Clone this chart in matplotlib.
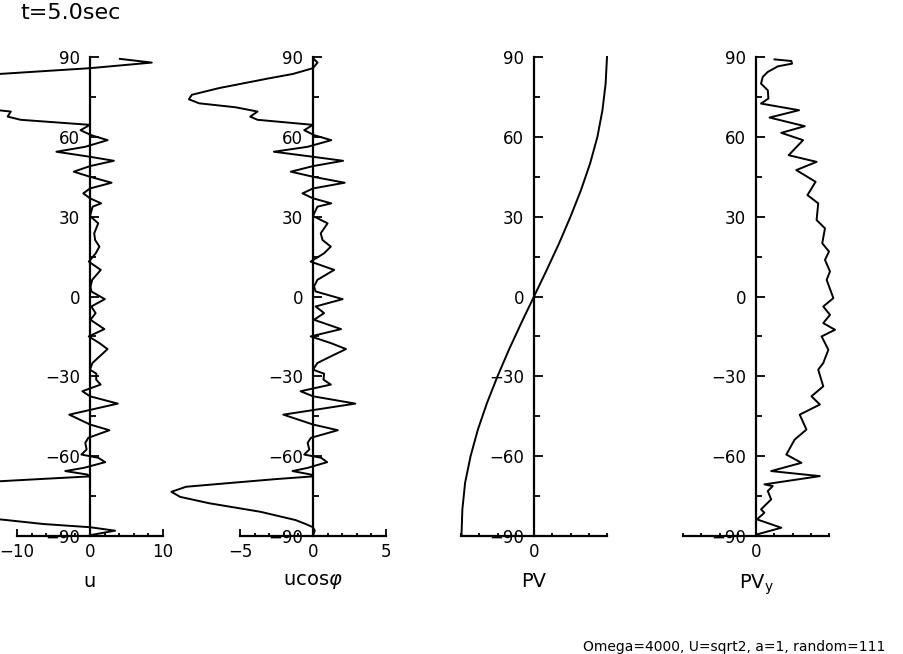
import numpy as np
import matplotlib
matplotlib.use("Agg")
import matplotlib.pyplot as plt
from matplotlib.ticker import MultipleLocator

plt.rcParams['font.family'] = ['DejaVu Sans']
plt.rcParams['mathtext.fontset'] = 'dejavusans'

# zonal wind, read as u*cos(lat) (latitude in degrees)
lat_u = [89.3, 87.9, 85.8, 83.6, 82.0, 78.3, 75.8, 74.1, 72.6, 71.1,
         69.5, 67.6, 66.4, 64.5, 62.5, 60.6, 58.75, 56.25, 54.4, 52.5,
         51.0, 49.0, 46.9, 45.0, 42.75, 40.6, 38.75, 36.9, 35.0, 33.75,
         30.25, 27.5, 23.75, 21.25, 18.75, 16.25, 13.1, 10.0, 6.25, 3.75,
         1.9, -1.0, -3.75, -6.25, -8.75, -12.25, -15.0, -17.5, -19.75, -22.5,
         -25.0, -27.5, -29.0, -31.25, -33.1, -35.6, -37.5, -40.25, -44.4, -48.1,
         -50.25, -53.1, -55.0, -57.5, -59.4, -60.6, -62.25, -64.4, -65.6, -66.9,
         -67.6, -68.6, -70.2, -71.5, -73.4, -75.3, -77.7, -80.9, -84.0, -85.5,
         -86.7, -88.0, -89.7]
ucos = [0.05, 0.31, 0.0, -1.4, -3.0, -6.45, -8.3, -8.5, -7.8, -5.3,
        -3.8, -4.3, -3.8, 0.0, -0.6, 0.09, 1.25, -0.37, -2.68, 0.0,
        2.06, 0.0, -1.52, 0.0, 2.17, 0.0, -0.72, 0.0, 1.25, 0.3,
        0.0, 1.0, 0.53, 0.65, 1.22, 0.76, -0.16, 1.45, 0.3, 0.07,
        0.18, 2.03, 0.18, 0.76, 0.07, 1.92, -0.16, 1.22, 2.26, 1.22,
        0.3, 0.0, 0.76, 0.72, 1.22, -0.85, 0.0, 2.9, -2.03, 0.0,
        1.7, -0.14, -0.37, -0.25, -0.6, 0.55, 0.97, -0.37, -1.4, -0.14,
        0.0, -2.5, -5.95, -8.7, -9.7, -9.1, -7.1, -3.6, -1.2, -0.5,
        0.0, 0.12, 0.0]

# potential vorticity
lat_pv = [90, 80, 70, 60, 50, 40, 30, 20, 10, 0,
          -10, -20, -30, -40, -50, -60, -70, -80, -90]
pv = [8000, 7850, 7500, 6950, 6150, 5150, 4000, 2750, 1400, 0,
      -1400, -2750, -4000, -5150, -6150, -6950, -7550, -7850, -7950]

# PV gradient
lat_pvy = [89.1, 88.5, 87.5, 86.5, 84.4, 82.5, 80.0, 77.5, 74.4, 72.5,
           70.0, 67.25, 64.0, 61.5, 58.75, 53.1, 50.6, 47.5, 43.1, 38.1,
           35.0, 28.75, 25.6, 20.0, 16.9, 13.75, 9.4, 6.25, -0.6, -3.75,
           -6.9, -10.0, -12.5, -15.0, -20.0, -25.0, -27.5, -33.75, -37.5, -40.6,
           -44.4, -50.0, -53.75, -59.4, -62.5, -65.6, -67.5, -70.6, -71.25, -73.1,
           -76.25, -80.0, -81.25, -83.75, -86.9, -89.4]
pvy = [2030, 3870, 3950, 2400, 1290, 740, 550, 1290, 1360, 550,
       4720, 1480, 5350, 2770, 5160, 3580, 6640, 4420, 6530, 5640,
       6820, 6640, 7560, 7260, 8000, 7560, 8110, 7740, 8480, 7370,
       8110, 7370, 8660, 7190, 7930, 7370, 6820, 7370, 6080, 7000,
       4790, 5530, 4240, 3320, 4980, 1660, 7000, 920, 1840, 1290,
       1660, 550, 920, 110, 2770, 110]

lat_u = np.array(lat_u)
ucos = np.array(ucos)
u = ucos / np.cos(np.deg2rad(lat_u))

fig = plt.figure(figsize=(9.04, 6.54), dpi=100)

lefts = [17, 240, 461, 683]
panels = [
    (u, lat_u, 10, 2, 10, "u"),
    (ucos, lat_u, 5, 1, 5, r"ucos$\varphi$"),
    (pv, lat_pv, 8000, 2000, 10000, "PV"),
    (pvy, lat_pvy, 8000, 2000, 10000, r"PV$_\mathregular{y}$"),
]

for left, (x, y, lim, minor, major, label) in zip(lefts, panels):
    ax = fig.add_axes([left / 904, 1 - 536 / 654, 146 / 904, 479 / 654])
    ax.plot(x, y, color='black', lw=1.4, clip_on=False)
    ax.set_xlim(-lim, lim)
    ax.set_ylim(-90, 90)
    ax.spines['left'].set_position(('data', 0))
    ax.spines['top'].set_visible(False)
    ax.spines['right'].set_visible(False)
    for s in ['left', 'bottom']:
        ax.spines[s].set_linewidth(1.6)
    ax.yaxis.set_major_locator(MultipleLocator(30))
    ax.yaxis.set_minor_locator(MultipleLocator(15))
    ax.xaxis.set_major_locator(MultipleLocator(major))
    ax.xaxis.set_minor_locator(MultipleLocator(minor))
    ax.tick_params(axis='y', which='major', direction='in', length=6.5, width=1.3,
                   labelsize=12, pad=7)
    ax.tick_params(axis='y', which='minor', direction='in', length=4.5, width=1.3)
    ax.tick_params(axis='x', which='major', direction='in', length=5, width=1.3,
                   labelsize=12, pad=5)
    ax.tick_params(axis='x', which='minor', direction='in', length=2.5, width=1.3)
    ax.set_xlabel(label, fontsize=14, labelpad=8)
    ax.patch.set_visible(False)

fig.text(20 / 904, 1 - 13 / 654, "t=5.0sec", fontsize=16, va='center', ha='left')
fig.text(885 / 904, 1 - 647 / 654, "Omega=4000, U=sqrt2, a=1, random=111",
         fontsize=10, va='center', ha='right')

fig.savefig("out.png", dpi=100)
